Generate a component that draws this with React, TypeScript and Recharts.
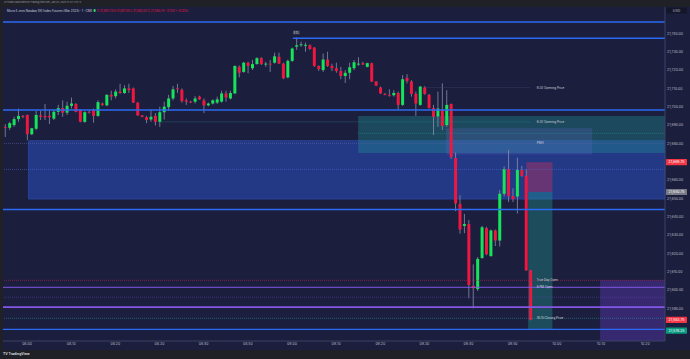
import React from 'react';
import { ComposedChart, Bar, XAxis, YAxis, ReferenceLine, ReferenceArea, ReferenceDot } from 'recharts';

// 1-minute candles, first bar at 07:55
const sessionStart = 7 * 60 + 55;

const opens = [
  21689.0, 21688.5, 21690.0, 21693.25, 21695.0, 21695.5, 21685.0, 21688.0, 21695.25, 21695.0,
  21695.0, 21693.5, 21697.25, 21699.25, 21696.75, 21700.5, 21701.5, 21698.25, 21691.75, 21697.25,
  21698.25, 21695.0, 21701.75, 21700.75, 21706.5, 21705.75, 21708.25, 21707.5, 21710.0, 21710.0,
  21702.25, 21695.25, 21694.25, 21693.0, 21695.0, 21691.75, 21697.0, 21699.75, 21704.5, 21710.0,
  21709.25, 21703.5, 21702.75, 21702.75, 21705.5, 21703.5, 21700.75, 21701.75, 21702.25, 21702.75,
  21707.25, 21704.5, 21707.25, 21721.75, 21719.0, 21724.0, 21721.0, 21723.25, 21726.5, 21723.25,
  21723.5, 21724.0, 21727.25, 21723.5, 21716.0, 21725.0, 21732.75, 21733.5, 21733.25, 21733.5,
  21732.25, 21722.25, 21720.0, 21725.75, 21722.25, 21721.0, 21719.5, 21716.75, 21718.5, 21721.0,
  21723.25, 21723.75, 21721.75, 21723.75, 21713.75, 21710.5, 21707.0, 21706.5, 21706.25, 21707.5,
  21701.0, 21715.75, 21713.75, 21707.0, 21701.0, 21710.5, 21706.5, 21699.25, 21694.75, 21698.5,
  21690.0, 21701.5, 21672.0, 21647.0, 21635.0, 21636.0, 21602.25, 21600.5, 21617.5, 21633.75,
  21618.5, 21632.5, 21627.0, 21652.5, 21666.0, 21651.25, 21651.0, 21665.5, 21662.25, 21610.75,
];
const highs = [
  21690.5, 21691.75, 21694.5, 21699.0, 21695.5, 21695.75, 21688.5, 21697.75, 21697.75, 21701.5,
  21697.75, 21698.25, 21701.0, 21703.5, 21702.75, 21705.0, 21702.0, 21698.5, 21697.5, 21698.0,
  21699.0, 21703.5, 21702.25, 21706.75, 21708.75, 21709.5, 21712.5, 21711.75, 21712.5, 21710.5,
  21702.5, 21695.5, 21695.0, 21698.5, 21696.5, 21700.0, 21702.75, 21706.5, 21711.25, 21712.5,
  21710.0, 21704.5, 21703.25, 21705.75, 21706.0, 21704.5, 21702.25, 21704.0, 21705.5, 21708.75,
  21708.75, 21708.75, 21722.5, 21722.5, 21724.5, 21724.5, 21725.5, 21727.0, 21727.0, 21724.5,
  21725.5, 21729.5, 21729.5, 21724.0, 21725.75, 21732.25, 21737.75, 21735.5, 21735.0, 21734.0,
  21732.5, 21722.5, 21729.0, 21730.0, 21723.5, 21724.0, 21721.75, 21720.0, 21724.0, 21725.5,
  21727.0, 21724.5, 21724.0, 21724.0, 21714.0, 21711.0, 21707.5, 21709.5, 21709.0, 21708.25,
  21717.25, 21717.75, 21714.5, 21708.25, 21711.25, 21711.25, 21707.0, 21701.0, 21708.25, 21712.75,
  21709.0, 21701.75, 21675.0, 21651.75, 21641.5, 21638.25, 21614.0, 21618.0, 21635.0, 21634.5,
  21633.0, 21633.0, 21654.5, 21667.5, 21676.5, 21655.5, 21672.25, 21667.75, 21666.0, 21611.0,
];
const lows = [
  21683.5, 21687.25, 21689.0, 21691.75, 21693.75, 21681.75, 21684.5, 21687.25, 21692.75, 21692.75,
  21690.5, 21692.75, 21695.5, 21694.5, 21695.5, 21699.0, 21697.0, 21691.5, 21691.25, 21696.25,
  21691.25, 21694.5, 21700.5, 21700.25, 21703.5, 21704.5, 21707.0, 21707.0, 21707.5, 21702.0,
  21695.0, 21694.25, 21691.0, 21691.75, 21689.75, 21689.0, 21693.0, 21697.75, 21703.5, 21707.5,
  21702.25, 21701.0, 21702.0, 21701.75, 21703.75, 21696.5, 21700.25, 21701.25, 21701.5, 21702.25,
  21702.75, 21704.0, 21707.0, 21716.0, 21718.5, 21718.25, 21720.0, 21723.0, 21722.75, 21721.75,
  21719.0, 21723.5, 21723.25, 21715.0, 21715.5, 21724.5, 21731.0, 21732.75, 21730.0, 21731.0,
  21721.75, 21719.5, 21719.0, 21721.75, 21719.5, 21718.5, 21715.0, 21713.0, 21715.0, 21720.0,
  21722.25, 21722.75, 21721.5, 21713.5, 21711.25, 21707.0, 21706.25, 21705.5, 21705.5, 21698.5,
  21700.5, 21712.75, 21705.5, 21695.0, 21700.5, 21706.5, 21699.0, 21684.5, 21689.0, 21687.25,
  21689.0, 21671.5, 21643.0, 21630.75, 21631.0, 21595.5, 21590.0, 21599.5, 21617.0, 21619.0,
  21618.25, 21624.0, 21623.75, 21651.0, 21648.0, 21648.0, 21641.75, 21661.75, 21610.5, 21583.5,
];
const closes = [
  21688.75, 21691.0, 21693.25, 21695.0, 21694.5, 21685.0, 21688.25, 21695.5, 21694.5, 21694.25,
  21694.25, 21697.25, 21699.25, 21696.75, 21700.5, 21701.75, 21697.25, 21691.75, 21697.0, 21697.0,
  21695.0, 21702.5, 21701.0, 21706.5, 21705.5, 21708.25, 21707.5, 21710.0, 21709.0, 21702.25,
  21695.25, 21694.5, 21692.75, 21694.5, 21691.75, 21697.0, 21700.0, 21704.5, 21709.5, 21709.75,
  21703.0, 21702.75, 21702.25, 21704.5, 21704.0, 21700.75, 21701.75, 21703.5, 21704.0, 21707.25,
  21705.0, 21707.5, 21722.25, 21718.5, 21724.0, 21722.25, 21723.25, 21726.5, 21723.25, 21723.5,
  21723.25, 21727.5, 21723.5, 21715.5, 21725.0, 21731.75, 21733.5, 21734.0, 21733.75, 21731.5,
  21722.25, 21720.5, 21725.75, 21722.25, 21721.0, 21719.5, 21716.75, 21718.5, 21721.5, 21724.25,
  21723.5, 21723.0, 21723.75, 21713.75, 21711.5, 21707.25, 21706.5, 21706.25, 21707.5, 21701.0,
  21715.0, 21714.0, 21707.0, 21701.75, 21711.0, 21707.0, 21699.25, 21694.5, 21699.0, 21689.5,
  21701.0, 21672.5, 21647.25, 21633.0, 21636.0, 21602.75, 21601.0, 21617.0, 21634.25, 21619.5,
  21632.5, 21627.0, 21652.5, 21666.0, 21651.25, 21649.5, 21665.5, 21662.25, 21610.75, 21583.75,
];

const timeTicks = [5, 15, 25, 35, 45, 55, 65, 75, 85, 95, 105, 115, 125, 135, 145];
const priceTicks = [
  21590, 21600, 21610, 21620, 21630, 21640, 21650, 21660, 21680, 21690,
  21700, 21710, 21720, 21730, 21740,
];

const candles = opens.map((o, i) => ({
  t: i,
  o,
  h: highs[i],
  l: lows[i],
  c: closes[i],
  range: [lows[i], highs[i]],
}));

const BG = '#1b1e3c';
const FRAME = '#1f2126';
const UP = '#16e35a';
const DOWN = '#ee1740';
const WICK = '#8a8ea8';
const BLUE = '#2b6bf3';
const PURPLE = '#8457e6';
const AXIS_TXT = '#b8bbc8';
const FONT = 'Inter, "Noto Sans", sans-serif';

const fmtTime = (t: number) => {
  const m = sessionStart + t;
  return `${String(Math.floor(m / 60)).padStart(2, '0')}:${String(m % 60).padStart(2, '0')}`;
};
const fmtPrice = (p: number) =>
  p.toLocaleString('en-US', { minimumFractionDigits: 2, maximumFractionDigits: 2 });

function Candle(props: any) {
  let { x, y, width, height } = props;
  const d = props.payload ?? props;
  if (height < 0) {
    y += height;
    height = -height;
  }
  const k = height / (d.h - d.l);
  const py = (p: number) => y + (d.h - p) * k;
  const top = py(Math.max(d.o, d.c));
  const bot = py(Math.min(d.o, d.c));
  const cx = x + width / 2;
  return (
    <g>
      <line x1={cx} x2={cx} y1={y} y2={y + height} stroke={WICK} strokeWidth={0.8} />
      <rect x={x} y={top} width={width} height={Math.max(bot - top, 0.9)} fill={d.c >= d.o ? UP : DOWN} />
    </g>
  );
}

function AxisTag({ viewBox, text, bg, dy = 0, color = '#fff' }: any) {
  const x = viewBox.x + viewBox.width / 2 + 1;
  const y = viewBox.y + viewBox.height / 2 + dy;
  return (
    <g>
      <rect x={x} y={y - 3.1} width={21} height={6.2} rx={0.6} fill={bg} />
      <text x={x + 10.5} y={y + 1.3} textAnchor="middle" fontSize={3.5} fill={color} fontFamily={FONT}>
        {text}
      </text>
    </g>
  );
}

function LineText({ viewBox, text }: any) {
  const x = viewBox.x + viewBox.width / 2 + 2;
  const y = viewBox.y + viewBox.height / 2;
  return (
    <text x={x} y={y + 1.1} fontSize={3} fill="#d1d4dc" fontFamily={FONT}>
      {text}
    </text>
  );
}

function PeakTag({ viewBox, text }: any) {
  const x = viewBox.x + viewBox.width / 2;
  const y = viewBox.y + viewBox.height / 2;
  return (
    <g>
      <rect x={x - 3.5} y={y - 2} width={7} height={4} fill="#3a3e55" />
      <text x={x} y={y + 1.1} textAnchor="middle" fontSize={2.8} fill="#d1d4dc" fontFamily={FONT}>
        {text}
      </text>
    </g>
  );
}

const X_MAX = 149.5;
const LABEL_T = 120;

export default function App() {
  return (
    <div style={{ position: 'fixed', left: 0, top: 0, width: 690, height: 359, background: FRAME, fontFamily: FONT }}>
      <div style={{ position: 'absolute', left: 3, top: 7, width: 687, height: 343, background: BG }} />
      <div style={{ position: 'absolute', left: 4, top: 1, fontSize: 2.4, color: '#9598a1', whiteSpace: 'nowrap' }}>
        ICTShark published on TradingView.com, Jan 25, 2025 15:47 UTC-5
      </div>
      <div style={{ position: 'absolute', left: 7, top: 8.5, fontSize: 3, color: '#d1d4dc', whiteSpace: 'nowrap' }}>
        Micro E-mini Nasdaq 100 Index Futures (Mar 2025) · 1 · CME{' '}
        <span style={{ color: '#2bd26b' }}>●</span>{' '}
        <span style={{ color: DOWN }}>
          O 21,610.75 H 21,611.00 L 21,583.50 C 21,583.75 −27.00 (−0.12%)
        </span>
      </div>
      <div style={{ position: 'absolute', left: 3, top: 352, fontSize: 3.4, color: '#d1d4dc', fontWeight: 700, whiteSpace: 'nowrap' }}>
        TV TradingView
      </div>
      <div style={{ position: 'absolute', left: 0, top: 0 }}>
        <ComposedChart width={690} height={359} data={candles} margin={{ top: 7, right: 0, bottom: 9, left: 3 }}>
          <XAxis
            dataKey="t"
            type="number"
            domain={[-0.45, X_MAX]}
            allowDataOverflow
            ticks={timeTicks}
            tickFormatter={fmtTime}
            height={9}
            tickSize={2}
            tickMargin={0}
            tickLine={false}
            axisLine={{ stroke: '#3d4266' }}
            tick={{ fontSize: 3.5, fill: AXIS_TXT, fontFamily: FONT }}
          />
          <YAxis
            orientation="right"
            type="number"
            domain={[21572.2, 21754.4]}
            allowDataOverflow
            ticks={priceTicks}
            tickFormatter={fmtPrice}
            width={25}
            tickSize={2}
            tickMargin={0}
            tickLine={false}
            axisLine={{ stroke: '#3d4266' }}
            tick={{ fontSize: 3.5, fill: AXIS_TXT, fontFamily: FONT }}
          />

          <ReferenceArea x1={5.3} x2={X_MAX} y1={21649.6} y2={21681.5} fill="#2a4bb5" fillOpacity={0.6} stroke="#2f4fb0" strokeOpacity={0.6} />
          <ReferenceArea x1={80} x2={X_MAX} y1={21674.8} y2={21694.9} fill="#1e8a90" fillOpacity={0.4} stroke="none" />
          <ReferenceArea x1={99.9} x2={133} y1={21674} y2={21688.2} fill="#6c68d8" fillOpacity={0.22} stroke="none" />
          <ReferenceArea x1={134.8} x2={X_MAX} y1={21572.2} y2={21605.4} fill="#6a3fd0" fillOpacity={0.35} stroke="none" />
          <ReferenceArea x1={118.1} x2={124} y1={21653.5} y2={21669.75} fill="#d0305a" fillOpacity={0.4} stroke="none" />
          <ReferenceArea x1={118.5} x2={124} y1={21578.25} y2={21653.5} fill="#22a39a" fillOpacity={0.35} stroke="none" />

          <ReferenceLine y={21746.2} stroke={BLUE} strokeWidth={1.5} />
          <ReferenceLine segment={[{ x: 65.2, y: 21737.4 }, { x: X_MAX, y: 21737.4 }]} stroke={BLUE} strokeWidth={1.5} />
          <ReferenceLine y={21698.2} stroke={BLUE} strokeWidth={1.5} />
          <ReferenceLine y={21644} stroke={BLUE} strokeWidth={1.5} />
          <ReferenceLine y={21578.5} stroke={BLUE} strokeWidth={1.2} />
          <ReferenceLine y={21680} stroke="#5a5fa0" strokeDasharray="1 1" strokeWidth={0.6} />
          <ReferenceLine y={21665.8} stroke="#4a66c8" strokeDasharray="1 1" strokeWidth={0.6} />
          <ReferenceLine segment={[{ x: 80, y: 21685.5 }, { x: X_MAX, y: 21685.5 }]} stroke="#2a8f98" strokeDasharray="1 1" strokeWidth={0.6} />
          <ReferenceLine segment={[{ x: 95, y: 21710.5 }, { x: 119, y: 21710.5 }]} stroke="#4a5080" strokeDasharray="1 1" strokeWidth={0.6} />
          <ReferenceLine segment={[{ x: 35, y: 21691.75 }, { x: 119, y: 21691.75 }]} stroke="#2a8f98" strokeDasharray="1 1" strokeWidth={0.6} />
          <ReferenceLine y={21605.3} stroke="#a3244a" strokeDasharray="1 1" strokeWidth={0.7} />
          <ReferenceLine y={21601.5} stroke={PURPLE} strokeWidth={1} />
          <ReferenceLine y={21596.1} stroke="#5b3fa8" strokeDasharray="1 1" strokeWidth={0.6} />
          <ReferenceLine y={21590.7} stroke={PURPLE} strokeWidth={1.8} />
          <ReferenceLine y={21584.6} stroke="#2a8f98" strokeDasharray="1 1" strokeWidth={0.6} />

          <Bar dataKey="range" barSize={3} shape={<Candle />} isAnimationActive={false} />

          <ReferenceDot x={66} y={21740.5} r={0} label={<PeakTag text="ETL" />} />
          <ReferenceDot x={LABEL_T} y={21710.5} r={0} label={<LineText text="9:30 Opening Price" />} />
          <ReferenceDot x={LABEL_T} y={21691.75} r={0} label={<LineText text="8:30 Opening Price" />} />
          <ReferenceDot x={LABEL_T} y={21680} r={0} label={<LineText text="PMH" />} />
          <ReferenceDot x={LABEL_T} y={21605.3} r={0} label={<LineText text="True Day Open" />} />
          <ReferenceDot x={LABEL_T} y={21601.5} r={0} label={<LineText text="6 PM Open" />} />
          <ReferenceDot x={LABEL_T} y={21584.6} r={0} label={<LineText text="16:15 Closing Price" />} />

          <ReferenceDot x={X_MAX} y={21752.5} r={0} label={<AxisTag text="USD" bg="#14162a" color="#b8bbc8" />} />
          <ReferenceDot x={X_MAX} y={21669.75} r={0} label={<AxisTag text="21,669.75" bg="#f23645" />} />
          <ReferenceDot x={X_MAX} y={21650.75} r={0} label={<AxisTag text="21,650.75" bg="#787b86" dy={-5} />} />
          <ReferenceDot x={X_MAX} y={21583.75} r={0} label={<AxisTag text="21,583.75" bg="#f23645" />} />
          <ReferenceDot x={X_MAX} y={21578.25} r={0} label={<AxisTag text="21,578.25" bg="#089981" dy={0.8} />} />
        </ComposedChart>
      </div>
    </div>
  );
}
